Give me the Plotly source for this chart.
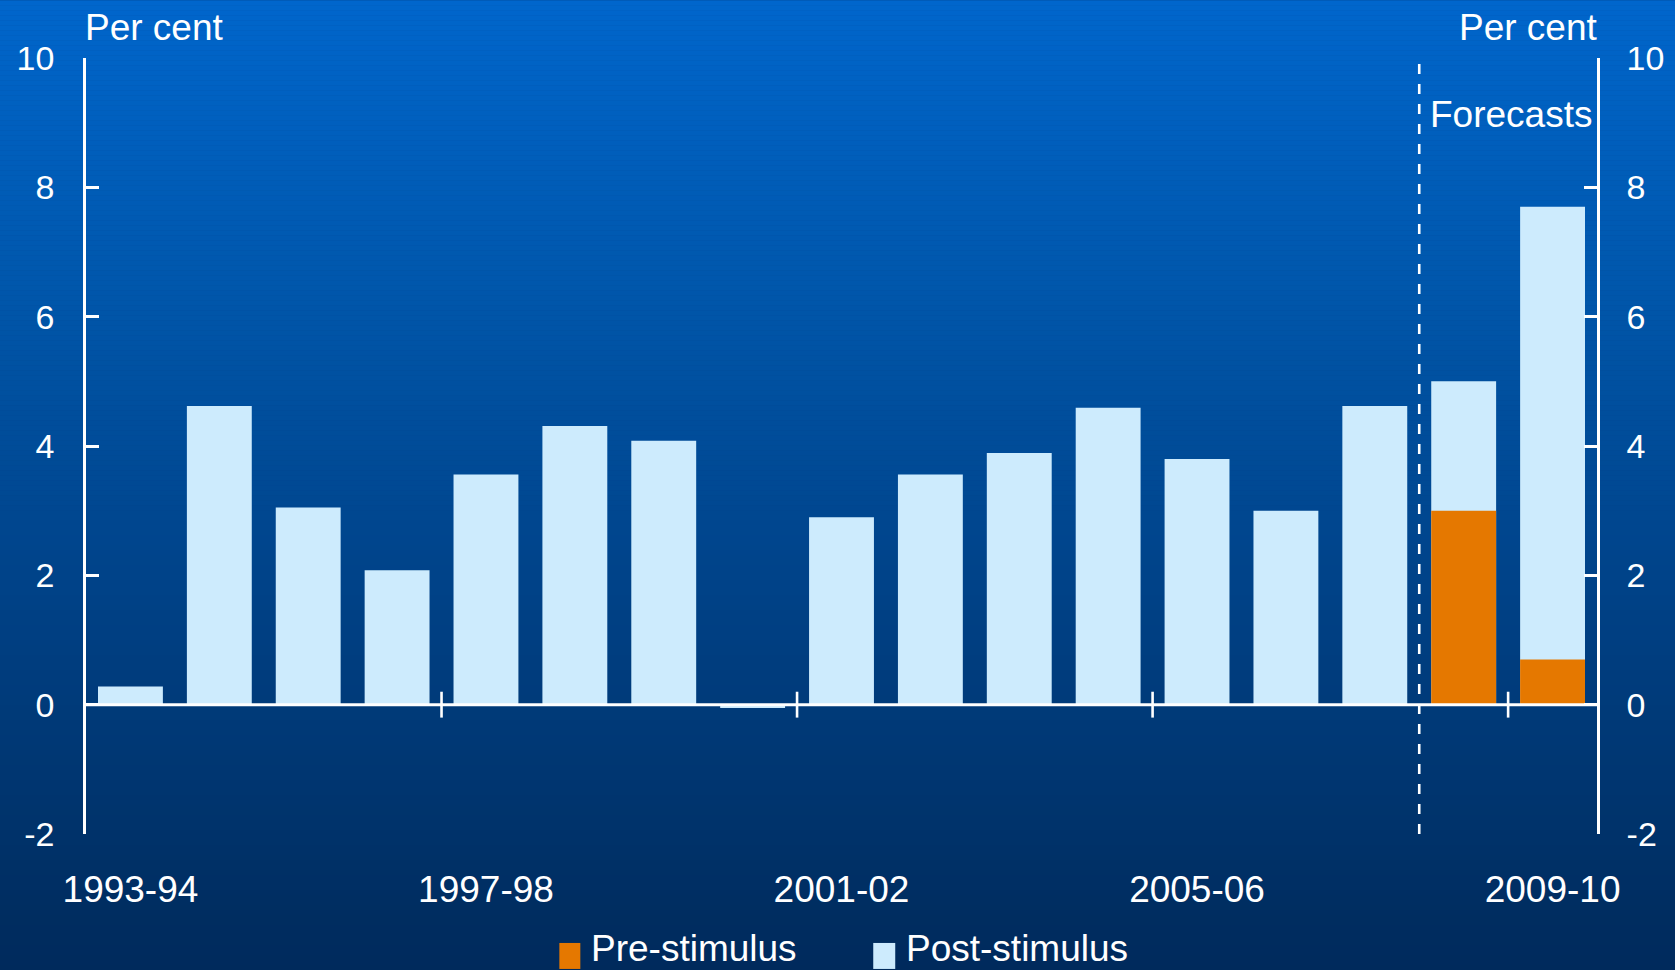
import plotly.graph_objects as go

# ---- data -------------------------------------------------------------
years = ["1993-94", "1994-95", "1995-96", "1996-97", "1997-98", "1998-99",
         "1999-00", "2000-01", "2001-02", "2002-03", "2003-04", "2004-05",
         "2005-06", "2006-07", "2007-08", "2008-09", "2009-10"]
post_stimulus = [0.28, 4.62, 3.05, 2.08, 3.56, 4.31, 4.08, -0.05, 2.90, 3.56,
                 3.89, 4.59, 3.80, 3.00, 4.62, 5.00, 7.70]
pre_stimulus = [None] * 15 + [3.00, 0.70]
first_forecast = "2008-09"
label_years = years[::4]
y_ticks = [-2, 0, 2, 4, 6, 8, 10]
y_tick_text = ["-2", "0", "2", "4", "6", "8", "10"]

# ---- geometry / style -------------------------------------------------
W, H = 1675, 970
L, R, T, B = 85.5, 1597, 57.7, 834
WHITE = "#ffffff"
LIGHT = "#cdebfd"
ORANGE = "#e57800"
FONT = "Liberation Sans, Arial, sans-serif"
LW = 2.6


def px(x):
    return (x - L) / (R - L)


def py(y):
    return (B - y) / (B - T)


# vertical background gradient, bright blue to navy
stops = [(0, (0, 102, 204)), (300, (0, 86, 170)), (600, (0, 65, 134)),
         (900, (0, 46, 98)), (970, (0, 42, 92))]


def grad(y):
    for (y0, c0), (y1, c1) in zip(stops, stops[1:]):
        if y0 <= y <= y1:
            t = (y - y0) / (y1 - y0)
            return "rgb(%d,%d,%d)" % tuple(round(a + (b - a) * t) for a, b in zip(c0, c1))
    return "rgb(%d,%d,%d)" % stops[-1][1]


shapes = []
step = 5
for y in range(0, H, step):
    shapes.append(dict(type="rect", xref="paper", yref="paper", layer="below",
                       x0=px(-5), x1=px(W + 5), y0=py(y + step + 0.5), y1=py(y),
                       fillcolor=grad(y + step / 2), line=dict(width=0)))

# zero line
shapes.append(dict(type="line", xref="x", yref="y", x0=-0.5, x1=len(years) - 0.5,
                   y0=0, y1=0, line=dict(color=WHITE, width=3), layer="above"))
# category-boundary ticks crossing the zero line
for lab in label_years[1:]:
    xb = years.index(lab) - 0.5
    shapes.append(dict(type="line", xref="x", yref="y", x0=xb, x1=xb,
                       y0=-0.2, y1=0.2, line=dict(color=WHITE, width=LW)))
# forecast divider
xf = years.index(first_forecast) - 0.5
shapes.append(dict(type="line", xref="x", yref="y", x0=xf, x1=xf, y0=-2, y1=10,
                   line=dict(color=WHITE, width=LW, dash="10px,10px")))

# legend swatches
shapes.append(dict(type="rect", xref="paper", yref="paper", x0=px(559), x1=px(580),
                   y0=py(969), y1=py(943), fillcolor=ORANGE, line=dict(width=0)))
shapes.append(dict(type="rect", xref="paper", yref="paper", x0=px(873), x1=px(895),
                   y0=py(969), y1=py(943), fillcolor=LIGHT, line=dict(width=0)))

fig = go.Figure()
fig.add_trace(go.Bar(x=years, y=post_stimulus, name="Post-stimulus",
                     marker=dict(color=LIGHT, line=dict(width=0)), width=0.73,
                     showlegend=False))
fig.add_trace(go.Bar(x=years, y=pre_stimulus, name="Pre-stimulus",
                     marker=dict(color=ORANGE, line=dict(width=0)), width=0.73,
                     showlegend=False))
# carrier for the right-hand axis
fig.add_trace(go.Scatter(x=[years[0]], y=[0], yaxis="y2", mode="markers",
                         marker=dict(opacity=0), showlegend=False, hoverinfo="skip"))

yax = dict(range=[-2, 10], tickvals=y_ticks, ticktext=y_tick_text,
           showgrid=False, zeroline=False, automargin=False,
           showline=True, linecolor=WHITE, linewidth=LW, ticks="inside",
           ticklen=13, tickwidth=LW, tickcolor=WHITE,
           tickfont=dict(family=FONT, size=34, color=WHITE))

annotations = [
    dict(text="Per cent", xref="paper", yref="paper", x=0, y=py(27), xshift=-3,
         xanchor="left", yanchor="middle", showarrow=False,
         font=dict(family=FONT, size=37, color=WHITE)),
    dict(text="Per cent", xref="paper", yref="paper", x=1, y=py(27), xshift=3,
         xanchor="right", yanchor="middle", showarrow=False,
         font=dict(family=FONT, size=37, color=WHITE)),
    dict(text="Forecasts", xref="paper", yref="paper", x=px(1594), y=py(114),
         xanchor="right", yanchor="middle", showarrow=False,
         font=dict(family=FONT, size=37, color=WHITE)),
    dict(text="Pre-stimulus", xref="paper", yref="paper", x=px(589), y=py(949),
         xanchor="left", yanchor="middle", showarrow=False,
         font=dict(family=FONT, size=37, color=WHITE)),
    dict(text="Post-stimulus", xref="paper", yref="paper", x=px(904), y=py(949),
         xanchor="left", yanchor="middle", showarrow=False,
         font=dict(family=FONT, size=37, color=WHITE)),
]

fig.update_layout(
    width=W, height=H, autosize=False,
    margin=dict(l=L, r=W - R, t=T, b=H - B, pad=0),
    paper_bgcolor="rgb(0,60,125)", plot_bgcolor="rgba(0,0,0,0)",
    barmode="overlay", bargap=0.27,
    xaxis=dict(type="category", range=[-0.5, len(years) - 0.5],
               tickvals=label_years, showgrid=False, zeroline=False,
               showline=False, ticks="", automargin=False,
               tickfont=dict(family=FONT, size=37, color=WHITE),
               ticklabelstandoff=30),
    yaxis=dict(side="left", ticklabelstandoff=22, **yax),
    yaxis2=dict(side="right", overlaying="y", ticklabelstandoff=20, **yax),
    shapes=shapes, annotations=annotations,
    font=dict(family=FONT, color=WHITE),
)

fig.write_html("out.html")
